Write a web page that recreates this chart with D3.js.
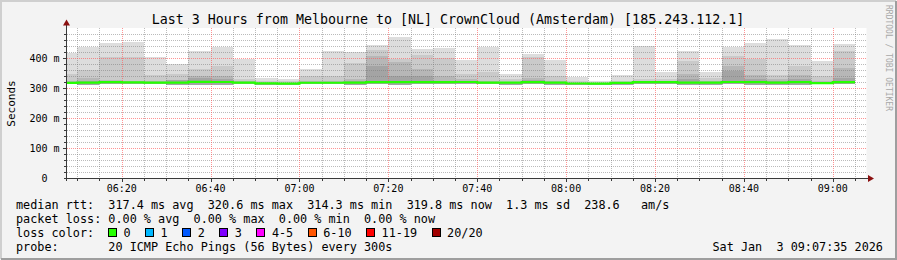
<!DOCTYPE html>
<html>
<head>
<meta charset="utf-8">
<script src="https://cdn.jsdelivr.net/npm/d3@7"></script>
<style>
html, body { margin: 0; padding: 0; background: #f3f3f3; overflow: hidden; width: 897px; height: 260px; }
svg { display: block; }
text { font-family: "DejaVu Sans Mono", monospace; white-space: pre; }
</style>
</head>
<body>
<svg id="chart" width="897" height="260" viewBox="0 0 897 260"></svg>
<script>
// --- data (ms), one entry per 5-minute step ---
const intervalStart = ["06:05", "06:10", "06:15", "06:20", "06:25", "06:30", "06:35", "06:40", "06:45", "06:50", "06:55",
    "07:00", "07:05", "07:10", "07:15", "07:20", "07:25", "07:30", "07:35", "07:40", "07:45", "07:50", "07:55",
    "08:00", "08:05", "08:10", "08:15", "08:20", "08:25", "08:30", "08:35", "08:40", "08:45", "08:50", "08:55", "09:00"];
const medianRtt = [317.0, 318.0, 319.5, 319.0, 318.0, 318.0, 320.6, 320.0, 318.0, 315.5, 314.3,
    317.5, 317.5, 318.0, 319.5, 319.5, 319.5, 319.5, 320.0, 318.0, 318.0, 319.5, 318.0,
    315.0, 314.5, 317.0, 319.5, 319.5, 318.0, 318.0, 320.0, 319.5, 318.0, 319.5, 316.0, 319.8];
const minRtt = [312, 311, 312, 313, 312, 311, 310, 311, 312, 311, 310,
    312, 312, 311, 312, 311, 312, 312, 313, 312, 309, 312, 311,
    311, 309, 310, 312, 312, 310, 311, 312, 311, 310, 310, 312, 313];
// smoke band tops, outermost (highest ping) first
const smoke20 = [417, 437, 450, 453, 403, 380, 423, 437, 398, 334, 330,
    363, 423, 420, 442, 470, 430, 433, 394, 437, 347, 413, 394,
    338, 323, 342, 441, 353, 422, 353, 437, 450, 463, 442, 389, 447];
const smoke19 = [347, 361, 403, 403, 344, 347, 363, 374, 330, 322, 322,
    341, 341, 383, 426, 397, 411, 400, 347, 353, 330, 402, 341,
    325, 318, 325, 330, 330, 389, 335, 408, 398, 344, 374, 339, 422];
const smoke18 = [325, 333, 328, 322, 322, 328, 339, 339, 322, 318, 318,
    322, 322, 330, 406, 386, 363, 340, 330, 325, 320, 333, 325,
    318, 316, 320, 322, 322, 347, 325, 374, 345, 330, 345, 325, 367];
const smoke17 = [320, 322, 322, 320, 320, 326, 332, 330, 320, 316, 316,
    320, 320, 322, 374, 341, 341, 325, 322, 320, 318, 326, 320,
    316, 315, 318, 320, 320, 330, 320, 356, 330, 322, 330, 320, 335];
const smokeColors = ["#dddddd", "#cacaca", "#b7b7b7", "#a4a4a4"];

const yTicks = [0, 100, 200, 300, 400];
const yTickLabels = ["0  ", "100 m", "200 m", "300 m", "400 m"];
const xTickLabels = ["06:20", "06:40", "07:00", "07:20", "07:40", "08:00", "08:20", "08:40", "09:00"];

const lossLabels = ["0", "1", "2", "3", "4-5", "6-10", "11-19", "20/20"];
const lossColors = ["#26ff00", "#00b8ff", "#0059ff", "#7e00ff", "#ff00ff", "#ff5500", "#ff0000", "#a10000"];

const titleText = "Last 3 Hours from Melbourne to [NL] CrownCloud (Amsterdam) [185.243.112.1]";
const statLines = [
    "median rtt:  317.4 ms avg  320.6 ms max  314.3 ms min  319.8 ms now  1.3 ms sd  238.6   am/s",
    "packet loss: 0.00 % avg  0.00 % max  0.00 % min  0.00 % now",
    "loss color:",
    "probe:       20 ICMP Echo Pings (56 Bytes) every 300s"
];
const stampText = "Sat Jan  3 09:07:35 2026";

// --- layout ---
const plotL = 66.5, plotR = 866.5, plotT = 28, plotB = 178;
const charW = 7.1;

// all times on the graph's own day
const parseT = d3.timeParse("%Y-%m-%d %H:%M:%S");
const atTime = s => parseT("2026-01-03 " + (s.length === 5 ? s + ":00" : s));
const tStart = atTime("06:07:35"), tEnd = atTime("09:07:35");

const x = d3.scaleTime().domain([tStart, tEnd]).range([plotL, plotR]);
const y = d3.scaleLinear().domain([0, 500]).range([plotB, plotT]);

const svg = d3.select("#chart");

// canvas + shaded frame
svg.append("rect").attr("width", 897).attr("height", 260).attr("fill", "#f3f3f3");
svg.append("path").attr("d", "M1,259V1H896").attr("fill", "none").attr("stroke", "#cfcfcf").attr("stroke-width", 2);
svg.append("path").attr("d", "M1,259H896V1").attr("fill", "none").attr("stroke", "#9e9e9e").attr("stroke-width", 2);

// plot background
svg.append("rect").attr("x", plotL).attr("y", plotT).attr("width", plotR - plotL).attr("height", plotB - plotT)
    .attr("fill", "#ffffff");

// smoke bands
const steps = intervalStart.map((s, i) => {
    const t0 = atTime(s);
    const t1 = d3.timeMinute.offset(t0, 5);
    return {
        x0: Math.max(x(t0), plotL),
        x1: Math.min(x(t1), plotR),
        lo: minRtt[i],
        tops: [smoke20[i], smoke19[i], smoke18[i], smoke17[i]],
        med: medianRtt[i]
    };
});

const smokeG = svg.append("g").attr("shape-rendering", "crispEdges");
smokeColors.forEach((col, k) => {
    smokeG.selectAll(null)
        .data(steps)
        .enter()
        .append("rect")
        .attr("x", d => d.x0)
        .attr("width", d => d.x1 - d.x0)
        .attr("y", d => y(d.tops[k]))
        .attr("height", d => Math.max(0, y(d.lo) - y(d.tops[k])))
        .attr("fill", col);
});

// grid, dotted 1 on / 1 off, drawn over the smoke like rrdtool does
const gridG = svg.append("g").attr("shape-rendering", "crispEdges");
const minorT = d3.timeMinute.every(5).range(tStart, tEnd).filter(t => t.getMinutes() % 20 !== 0);
const majorT = d3.timeMinute.every(20).range(tStart, tEnd);
const minorY = d3.range(20, 500, 20).filter(v => v % 100 !== 0);
const majorY = yTicks.filter(v => v > 0);
const gx0 = Math.ceil(plotL), gx1 = Math.floor(plotR);
const minorCol = "rgba(120,120,120,0.5)", majorCol = "rgba(255,90,90,0.65)";

function dotPath(cells) {
    return cells.map(([cx, cy]) => `M${cx},${cy}h1v1h-1z`).join("");
}
function vLine(t, col) {
    const px = Math.round(x(t));
    const cells = d3.range(plotT, plotB, 2).map(py => [px, py]);
    gridG.append("path").attr("d", dotPath(cells)).attr("fill", col);
}
function hLine(v, col) {
    const py = Math.round(y(v));
    const cells = d3.range(gx0, gx1, 2).map(px => [px, py]);
    gridG.append("path").attr("d", dotPath(cells)).attr("fill", col);
}
minorT.forEach(t => vLine(t, minorCol));
minorY.forEach(v => hLine(v, minorCol));
majorT.forEach(t => vLine(t, majorCol));
majorY.forEach(v => hLine(v, majorCol));

// median line (loss colour 0 everywhere)
const medPts = [];
steps.forEach(d => { medPts.push([d.x0, y(d.med)]); medPts.push([d.x1, y(d.med)]); });
svg.append("path")
    .attr("d", d3.line()(medPts))
    .attr("fill", "none")
    .attr("stroke", lossColors[0])
    .attr("stroke-width", 2.2);

// axes
const axisCol = "#3a3a3a";
const axG = svg.append("g").attr("shape-rendering", "crispEdges");
axG.append("line").attr("x1", plotL).attr("x2", plotL).attr("y1", plotB + 3).attr("y2", 22).attr("stroke", axisCol);
axG.append("line").attr("x1", plotL - 3).attr("x2", plotR + 3).attr("y1", plotB + 0.5).attr("y2", plotB + 0.5).attr("stroke", axisCol);
// ticks
axG.selectAll(".xt").data(minorT.concat(majorT)).enter().append("line")
    .attr("x1", d => Math.round(x(d)) + 0.5).attr("x2", d => Math.round(x(d)) + 0.5)
    .attr("y1", plotB + 1).attr("y2", d => plotB + (d.getMinutes() % 20 === 0 ? 4 : 3))
    .attr("stroke", axisCol);
axG.selectAll(".yt").data(minorY.concat(majorY)).enter().append("line")
    .attr("x1", d => plotL - (d % 100 === 0 ? 3.5 : 2.5)).attr("x2", plotL)
    .attr("y1", d => Math.round(y(d)) + 0.5).attr("y2", d => Math.round(y(d)) + 0.5)
    .attr("stroke", axisCol);
// arrows
svg.append("path").attr("d", `M${plotL - 3.5},25.5L${plotL + 3.5},25.5L${plotL},19.5Z`).attr("fill", "#8b1010");
svg.append("path").attr("d", `M${plotR + 1.5},175L${plotR + 1.5},182L${plotR + 7.5},178.5Z`).attr("fill", "#8b1010");

// y labels
svg.selectAll(".ylab").data(yTicks).enter().append("text")
    .attr("x", 59.5).attr("y", d => y(d) + 3.5)
    .attr("text-anchor", "end").attr("font-size", "10px").attr("fill", "#000")
    .attr("xml:space", "preserve")
    .text((d, i) => yTickLabels[i]);

// x labels
svg.selectAll(".xlab").data(xTickLabels).enter().append("text")
    .attr("x", d => x(atTime(d)))
    .attr("y", 192)
    .attr("text-anchor", "middle").attr("font-size", "10px").attr("fill", "#000")
    .text(d => d);

// axis title
svg.append("text")
    .attr("transform", "translate(15,103.5) rotate(-90)")
    .attr("text-anchor", "middle").attr("font-size", "11px").attr("fill", "#000")
    .text("Seconds");

// title
svg.append("text")
    .attr("x", 448).attr("y", 24)
    .attr("text-anchor", "middle").attr("font-size", "13.3px").attr("fill", "#000")
    .text(titleText);

// watermark
svg.append("text")
    .attr("transform", "translate(886,5) rotate(90)")
    .attr("font-size", "8px").attr("fill", "#a8a8a8")
    .text("RRDTOOL / TOBI OETIKER");

// legend lines
const baseY = [208.5, 222.5, 236.5, 250.5];
svg.selectAll(".leg").data(statLines).enter().append("text")
    .attr("x", 16).attr("y", (d, i) => baseY[i])
    .attr("font-size", "11.8px").attr("fill", "#000")
    .attr("xml:space", "preserve")
    .text(d => d);

// loss colour boxes
let bx = 108.5;
lossLabels.forEach((lab, i) => {
    svg.append("rect")
        .attr("x", bx).attr("y", 228.5).attr("width", 8).attr("height", 8)
        .attr("fill", lossColors[i]).attr("stroke", "#000").attr("stroke-width", 1)
        .attr("shape-rendering", "crispEdges");
    svg.append("text")
        .attr("x", bx + 15).attr("y", baseY[2])
        .attr("font-size", "11.8px").attr("fill", "#000")
        .text(lab);
    bx = bx + 15 + lab.length * charW + 15;
});

// timestamp
svg.append("text")
    .attr("x", 712.5).attr("y", baseY[3])
    .attr("font-size", "11.8px").attr("fill", "#000")
    .attr("xml:space", "preserve")
    .text(stampText);
</script>
</body>
</html>
